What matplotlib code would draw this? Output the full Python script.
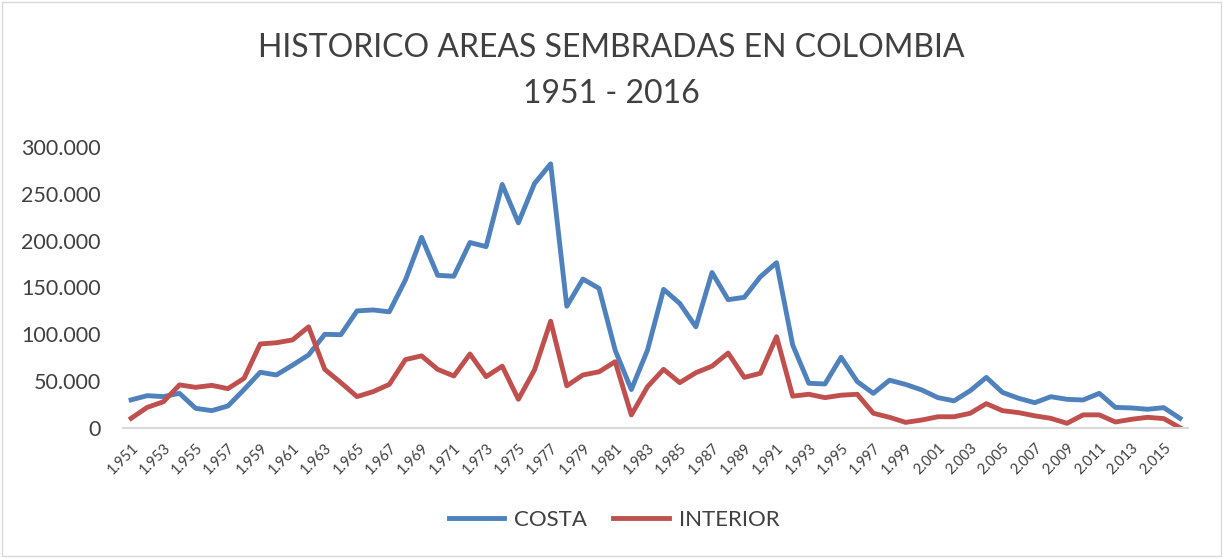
import matplotlib.pyplot as plt
import matplotlib.ticker as mticker
from matplotlib.patches import Rectangle

plt.rcParams['font.family'] = ['Lato', 'DejaVu Sans']

years = list(range(1951, 2017))

costa = [30000, 34500, 33500, 37000, 21000, 18500, 23500, 41000, 59500, 56600,
         67000, 78000, 100000, 99600, 125000, 126000, 124000, 158000, 203600, 163000,
         162000, 198000, 193600, 260000, 219000, 261000, 282000, 130000, 159000, 149000,
         83000, 41000, 83000, 148000, 133000, 108000, 166000, 137000, 139500, 161500,
         176500, 88600, 47700, 47000, 75500, 49500, 37000, 51000, 46500, 40600,
         32400, 29000, 39800, 54000, 38000, 31700, 27000, 33400, 30600, 29900,
         37000, 22000, 21400, 20000, 21700, 10300]

interior = [10300, 22000, 28000, 46000, 43400, 45500, 42000, 53000, 89700, 91000,
            94000, 108000, 62600, 48400, 33500, 38800, 46500, 73000, 77000, 62600,
            55500, 79000, 54800, 66000, 30600, 62000, 114000, 45000, 56600, 60000,
            70800, 13900, 44000, 62600, 48400, 59000, 66000, 80000, 54000, 58400,
            97500, 34000, 36000, 32400, 35000, 36000, 15700, 11400, 6000, 8500,
            12000, 12000, 15700, 26000, 18500, 16400, 13000, 10300, 5000, 14000,
            14000, 6400, 9300, 11400, 10000, 300]

year_labels = [str(y)[0] + '.' + str(y)[1:] for y in years]

txt = '#404040'

fig = plt.figure(figsize=(12.23, 5.58), dpi=100)
ax = fig.add_axes([0.1006, 0.233, 0.8708, 0.5036])

x = list(range(len(years)))
ax.plot(x, costa, color='#4F81BD', lw=3.5, label='COSTA', solid_joinstyle='round')
ax.plot(x, interior, color='#C0504D', lw=3.5, label='INTERIOR', solid_joinstyle='round')

ax.set_xlim(-0.5, len(years) - 0.5)
ax.set_ylim(0, 300000)
ax.yaxis.set_major_locator(mticker.MultipleLocator(50000))
ax.yaxis.set_major_formatter(mticker.FuncFormatter(
    lambda v, p: '{:,.0f}'.format(v).replace(',', '.')))
ax.set_xticks(x[::2])
ax.set_xticklabels(year_labels[::2], rotation=45, ha='right',
                   rotation_mode='anchor', fontsize=10.5, color=txt)
ax.tick_params(axis='y', length=0, labelsize=15.5, labelcolor=txt, pad=16)
ax.tick_params(axis='x', length=0, pad=9)

for s in ['top', 'right', 'left']:
    ax.spines[s].set_visible(False)
ax.spines['bottom'].set_color('#D9D9D9')
ax.spines['bottom'].set_linewidth(1.5)

fig.text(0.5, 1 - 48 / 558, 'HISTORICO AREAS SEMBRADAS EN COLOMBIA',
         ha='center', va='center', fontsize=23, color=txt)
fig.text(0.5, 1 - 94 / 558, '1951 - 2016',
         ha='center', va='center', fontsize=23, color=txt)

fig.legend(loc='center', bbox_to_anchor=(0.502, 1 - 520 / 558), ncol=2, frameon=False,
           fontsize=16, labelcolor=txt, handlelength=2.5, columnspacing=1.17,
           handletextpad=0.45)

fig.patches.append(Rectangle((0.002, 0.003), 0.996, 0.994, transform=fig.transFigure,
                             fill=False, edgecolor='#D9D9D9', lw=1))

fig.savefig('out.png', dpi=100)
